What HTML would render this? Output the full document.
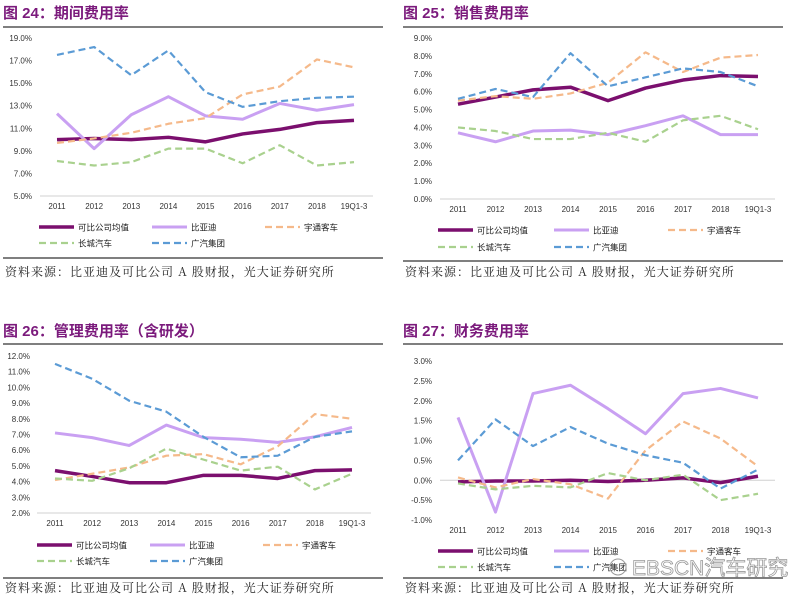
<!DOCTYPE html>
<html><head><meta charset="utf-8">
<style>
body{margin:0;background:#fff;width:793px;height:602px;overflow:hidden;font-family:"Liberation Sans","Noto Sans CJK SC",sans-serif}
svg{position:absolute;left:0;top:0}
</style></head>
<body>
<svg id="chart" width="793" height="602"></svg>
<script>
const categories=["2011","2012","2013","2014","2015","2016","2017","2018","19Q1-3"];
const seriesNames=["可比公司均值","比亚迪","宇通客车","长城汽车","广汽集团"];
// Fig 24 period expense ratio
const p24Avg=[10.0,10.1,10.0,10.2,9.8,10.5,10.9,11.5,11.7];
const p24Byd=[12.3,9.2,12.2,13.8,12.1,11.8,13.2,12.6,13.1];
const p24Yutong=[9.7,10.1,10.6,11.4,11.9,14.0,14.7,17.1,16.4];
const p24Gw=[8.1,7.7,8.0,9.2,9.2,7.9,9.5,7.7,8.0];
const p24Gac=[17.5,18.2,15.7,17.9,14.2,12.9,13.4,13.7,13.8];
const p24Ticks=[5,7,9,11,13,15,17,19];
// Fig 25 sales expense ratio
const p25Avg=[5.3,5.7,6.1,6.25,5.5,6.2,6.65,6.9,6.85];
const p25Byd=[3.7,3.2,3.8,3.85,3.6,4.1,4.65,3.6,3.6];
const p25Yutong=[5.5,5.75,5.6,5.9,6.5,8.2,7.1,7.9,8.05];
const p25Gw=[4.0,3.8,3.35,3.35,3.7,3.2,4.4,4.65,3.9];
const p25Gac=[5.6,6.15,5.7,8.15,6.3,6.8,7.3,7.1,6.3];
const p25Ticks=[0,1,2,3,4,5,6,7,8,9];
// Fig 26 admin expense ratio
const p26Avg=[4.7,4.33,3.93,3.93,4.4,4.4,4.2,4.7,4.75];
const p26Byd=[7.1,6.8,6.3,7.6,6.8,6.7,6.5,6.85,7.45];
const p26Yutong=[4.1,4.5,4.9,5.65,5.75,5.1,6.25,8.3,8.0];
const p26Gw=[4.2,4.05,4.85,6.1,5.4,4.7,4.95,3.5,4.5];
const p26Gac=[11.5,10.55,9.15,8.45,6.85,5.55,5.65,6.85,7.2];
const p26Ticks=[2,3,4,5,6,7,8,9,10,11,12];
// Fig 27 financial expense ratio
const p27Avg=[-0.04,-0.02,-0.02,0,-0.03,0,0.06,-0.06,0.1];
const p27Byd=[1.58,-0.8,2.18,2.39,1.8,1.17,2.18,2.31,2.07];
const p27Yutong=[0.07,-0.18,0.03,-0.1,-0.46,0.75,1.48,1.05,0.35];
const p27Gw=[-0.08,-0.23,-0.14,-0.18,0.18,0,0.14,-0.5,-0.34];
const p27Gac=[0.5,1.53,0.86,1.34,0.92,0.63,0.44,-0.21,0.27];
const p27Ticks=[-1.0,-0.5,0,0.5,1.0,1.5,2.0,2.5,3.0];

const NS="http://www.w3.org/2000/svg";
const svg=document.getElementById("chart");
const styles=[
 {c:"#7b0f6e",w:3.5,d:""},
 {c:"#c9a0f2",w:3,d:""},
 {c:"#f5b98a",w:2.2,d:"7,4"},
 {c:"#a9d18e",w:2.2,d:"7,4"},
 {c:"#5b9bd5",w:2.2,d:"7,4"}
];
function el(tag,attrs,parent){const e=document.createElementNS(NS,tag);for(const k in attrs)e.setAttribute(k,attrs[k]);(parent||svg).appendChild(e);return e;}
function txt(x,y,s,attrs,parent){const t=el("text",Object.assign({x:x,y:y},attrs),parent);t.textContent=s;return t;}

function panel(cfg){
 const g=el("g",{});
 
 
 const t=txt(cfg.ox+3,cfg.titleY,cfg.title,{fill:"#7b1a7c","font-size":"15","font-weight":"bold","font-family":"Liberation Sans,Noto Sans CJK SC,sans-serif","letter-spacing":"0"},g);
 
 
 el("line",{x1:cfg.ox+3,x2:cfg.ox+383,y1:cfg.ruleY,y2:cfg.ruleY,stroke:"#555","stroke-width":"1.5"},g);
 const ymin=cfg.ticks[0],ymax=cfg.ticks[cfg.ticks.length-1];
 const y=v=>cfg.yBottom-(v-ymin)/(ymax-ymin)*(cfg.yBottom-cfg.yTop);
 const x=i=>cfg.x0+i*(cfg.x1-cfg.x0)/(categories.length-1);
 const ax=el("line",{x1:cfg.axL,x2:cfg.axR,y1:y(cfg.base),y2:y(cfg.base),stroke:"#d0d0d0","stroke-width":"1"},g);
 
 
 cfg.ticks.forEach(v=>{
  const l=txt(cfg.labR,y(v)+3,v.toFixed(1)+"%",{"font-size":"8","text-anchor":"end",fill:"#333"},g);
  
  
 });
 categories.forEach((c,i)=>{
  const l=txt(x(i),cfg.catY,c,{"font-size":"8","text-anchor":"middle",fill:"#333"},g);
  
  
 });
 cfg.series.forEach((s,k)=>{
  const st=styles[k];
  const p=el("polyline",{points:s.map((v,i)=>x(i)+","+y(v)).join(" "),fill:"none",stroke:st.c,"stroke-width":st.w,"stroke-dasharray":st.d,"stroke-linejoin":"round"},g);
  
  
 });
 const lx=[cfg.ox+cfg.leg[0],cfg.ox+cfg.leg[1],cfg.ox+cfg.leg[2]];
 seriesNames.forEach((n,k)=>{
  const row=k<3?0:1,col=k<3?k:k-3;
  const ly=row?cfg.legY2:cfg.legY1;
  const st=styles[k];
  const lg=el("g",{},g);
  
  
  el("line",{x1:lx[col],x2:lx[col]+35,y1:ly,y2:ly,stroke:st.c,"stroke-width":st.w,"stroke-dasharray":st.d},lg);
  txt(lx[col]+39,ly+3.5,n,{"font-size":"8.5",fill:"#222"},lg);
 });
 el("line",{x1:cfg.ox+3,x2:cfg.ox+383,y1:cfg.botRule,y2:cfg.botRule,stroke:"#555","stroke-width":"1.5"},g);
 const src=txt(cfg.ox+5,cfg.srcY,"资料来源：比亚迪及可比公司 A 股财报，光大证券研究所",{"font-size":"12","font-family":"Noto Serif CJK SC,serif",fill:"#222","letter-spacing":"1.0"},g);
 
 
}

panel({name:"panel-fig24",ox:0,title:"图 24：期间费用率",titleY:18,ruleY:27,ticks:p24Ticks,yTop:38,yBottom:196,base:5,x0:57,x1:354,axL:40,axR:373,labR:32,catY:209,
 series:[p24Avg,p24Byd,p24Yutong,p24Gw,p24Gac],leg:[39,152,265],legY1:227,legY2:243,botRule:258,srcY:276});
panel({name:"panel-fig25",ox:400,title:"图 25：销售费用率",titleY:18,ruleY:27,ticks:p25Ticks,yTop:38,yBottom:199,base:0,x0:458,x1:758,axL:440,axR:775,labR:432,catY:212,
 series:[p25Avg,p25Byd,p25Yutong,p25Gw,p25Gac],leg:[38,154,268],legY1:230,legY2:247,botRule:261,srcY:276});
panel({name:"panel-fig26",ox:0,title:"图 26：管理费用率（含研发）",titleY:336,ruleY:344,ticks:p26Ticks,yTop:356,yBottom:513,base:2,x0:55,x1:352,axL:37,axR:371,labR:30,catY:526,
 series:[p26Avg,p26Byd,p26Yutong,p26Gw,p26Gac],leg:[37,150,263],legY1:545,legY2:561,botRule:578,srcY:592});
panel({name:"panel-fig27",ox:400,title:"图 27：财务费用率",titleY:336,ruleY:344,ticks:p27Ticks,yTop:361,yBottom:520,base:0,x0:458,x1:758,axL:440,axR:775,labR:432,catY:533,
 series:[p27Avg,p27Byd,p27Yutong,p27Gw,p27Gac],leg:[38,154,268],legY1:551,legY2:567,botRule:578,srcY:592});

const wm=txt(632,575,"EBSCN汽车研究",{"font-size":"21",fill:"none",stroke:"#999","stroke-width":"0.8"});


const ic=el("circle",{cx:618,cy:567,r:8,fill:"none",stroke:"#999","stroke-width":"1"});


</script>
</body></html>
